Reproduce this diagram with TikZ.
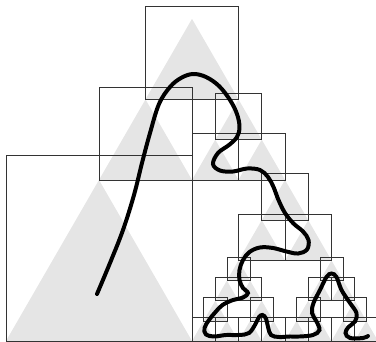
\documentclass[tikz,border=0pt]{standalone}
\usepackage{tikz}
\definecolor{trigray}{HTML}{E5E5E5}
\definecolor{boxgray}{HTML}{333333}

\begin{document}
\begin{tikzpicture}[scale=0.82]
\useasboundingbox (-0.258,0) rectangle (15.914,14.667);
\clip (-0.258,0) rectangle (15.914,14.667);
\fill[trigray] (0,0) -- (8,0) -- (4,6.928) -- cycle;
\fill[trigray] (4,6.928) -- (8,6.928) -- (6,10.392) -- cycle;
\fill[trigray] (6,10.392) -- (10,10.392) -- (8,13.856) -- cycle;
\fill[trigray] (8,6.928) -- (10,6.928) -- (9,8.660) -- cycle;
\fill[trigray] (10,6.928) -- (12,6.928) -- (11,8.660) -- cycle;
\fill[trigray] (9,8.660) -- (11,8.660) -- (10,10.392) -- cycle;
\fill[trigray] (10,3.464) -- (12,3.464) -- (11,5.196) -- cycle;
\fill[trigray] (12,3.464) -- (14,3.464) -- (13,5.196) -- cycle;
\fill[trigray] (11,5.196) -- (13,5.196) -- (12,6.928) -- cycle;
\fill[trigray] (9.5,2.598) -- (10.5,2.598) -- (10,3.464) -- cycle;
\fill[trigray] (9,1.732) -- (10,1.732) -- (9.5,2.598) -- cycle;
\fill[trigray] (10,1.732) -- (11,1.732) -- (10.5,2.598) -- cycle;
\fill[trigray] (8.5,0.866) -- (9.5,0.866) -- (9,1.732) -- cycle;
\fill[trigray] (8,0) -- (9,0) -- (8.5,0.866) -- cycle;
\fill[trigray] (9,0) -- (10,0) -- (9.5,0.866) -- cycle;
\fill[trigray] (10.5,0.866) -- (11.5,0.866) -- (11,1.732) -- cycle;
\fill[trigray] (10,0) -- (11,0) -- (10.5,0.866) -- cycle;
\fill[trigray] (11,0) -- (12,0) -- (11.5,0.866) -- cycle;
\fill[trigray] (13.5,2.598) -- (14.5,2.598) -- (14,3.464) -- cycle;
\fill[trigray] (13,1.732) -- (14,1.732) -- (13.5,2.598) -- cycle;
\fill[trigray] (14,1.732) -- (15,1.732) -- (14.5,2.598) -- cycle;
\fill[trigray] (12.5,0.866) -- (13.5,0.866) -- (13,1.732) -- cycle;
\fill[trigray] (12,0) -- (13,0) -- (12.5,0.866) -- cycle;
\fill[trigray] (13,0) -- (14,0) -- (13.5,0.866) -- cycle;
\fill[trigray] (14.5,0.866) -- (15.5,0.866) -- (15,1.732) -- cycle;
\fill[trigray] (14,0) -- (15,0) -- (14.5,0.866) -- cycle;
\fill[trigray] (15,0) -- (16,0) -- (15.5,0.866) -- cycle;
\draw[boxgray, line width=0.8pt] (0,0) rectangle (8,8);
\draw[boxgray, line width=0.8pt] (4,6.928) rectangle (8,10.928);
\draw[boxgray, line width=0.8pt] (6,10.392) rectangle (10,14.392);
\draw[boxgray, line width=0.8pt] (8,6.928) rectangle (10,8.928);
\draw[boxgray, line width=0.8pt] (10,6.928) rectangle (12,8.928);
\draw[boxgray, line width=0.8pt] (9,8.660) rectangle (11,10.660);
\draw[boxgray, line width=0.8pt] (10,3.464) rectangle (12,5.464);
\draw[boxgray, line width=0.8pt] (12,3.464) rectangle (14,5.464);
\draw[boxgray, line width=0.8pt] (11,5.196) rectangle (13,7.196);
\draw[boxgray, line width=0.6pt] (9.5,2.598) rectangle (10.5,3.598);
\draw[boxgray, line width=0.6pt] (9,1.732) rectangle (10,2.732);
\draw[boxgray, line width=0.6pt] (10,1.732) rectangle (11,2.732);
\draw[boxgray, line width=0.6pt] (8.5,0.866) rectangle (9.5,1.866);
\draw[boxgray, line width=0.6pt] (8,0) rectangle (9,1);
\draw[boxgray, line width=0.6pt] (9,0) rectangle (10,1);
\draw[boxgray, line width=0.6pt] (10.5,0.866) rectangle (11.5,1.866);
\draw[boxgray, line width=0.6pt] (10,0) rectangle (11,1);
\draw[boxgray, line width=0.6pt] (11,0) rectangle (12,1);
\draw[boxgray, line width=0.6pt] (13.5,2.598) rectangle (14.5,3.598);
\draw[boxgray, line width=0.6pt] (13,1.732) rectangle (14,2.732);
\draw[boxgray, line width=0.6pt] (14,1.732) rectangle (15,2.732);
\draw[boxgray, line width=0.6pt] (12.5,0.866) rectangle (13.5,1.866);
\draw[boxgray, line width=0.6pt] (12,0) rectangle (13,1);
\draw[boxgray, line width=0.6pt] (13,0) rectangle (14,1);
\draw[boxgray, line width=0.6pt] (14.5,0.866) rectangle (15.5,1.866);
\draw[boxgray, line width=0.6pt] (14,0) rectangle (15,1);
\draw[boxgray, line width=0.6pt] (15,0) rectangle (16,1);
\draw[line width=4pt, line cap=round] plot[smooth, tension=0.6] coordinates {
  (3.914,2.022) (4.473,3.355) (5.032,4.774) (5.505,6.280) (5.849,7.656)
  (6.194,8.946) (6.581,10.194) (7.054,10.925) (7.527,11.312) (8.043,11.484)
  (8.602,11.355) (9.161,10.968) (9.634,10.366) (9.935,9.763) (10.043,9.204)
  (9.935,8.774) (9.591,8.430) (9.118,8.086) (8.903,7.613) (9.204,7.333)
  (9.763,7.290) (10.366,7.419) (10.925,7.355) (11.269,7.054) (11.505,6.624)
  (11.720,6.065) (12.000,5.505) (12.366,5.054) (12.774,4.710) (13.011,4.344)
  (12.946,3.935) (12.559,3.763) (12.065,3.849) (11.484,4.000) (10.925,4.022)
  (10.473,3.828) (10.194,3.484) (10.043,3.054) (10.043,2.624) (10.194,2.280)
  (10.409,2.065) (10.194,1.871) (9.763,1.763) (9.312,1.548) (9.011,1.247)
  (8.731,0.903) (8.538,0.559) (8.602,0.280) (8.946,0.194) (9.462,0.258)
  (10.022,0.258) (10.452,0.344) (10.731,0.731) (10.882,1.032) (11.032,1.118)
  (11.183,0.968) (11.269,0.602) (11.398,0.258) (11.742,0.172) (12.215,0.194)
  (12.645,0.194) (13.204,0.258) (13.484,0.473) (13.355,0.839) (13.161,1.204)
  (13.226,1.634) (13.505,2.194) (13.785,2.753) (14.000,2.903) (14.215,2.753)
  (14.430,2.194) (14.796,1.634) (15.075,1.204) (15.011,0.839) (14.731,0.602)
  (14.602,0.344) (14.796,0.129) (15.355,0.129) (15.570,0.215)};
\end{tikzpicture}
\end{document}
